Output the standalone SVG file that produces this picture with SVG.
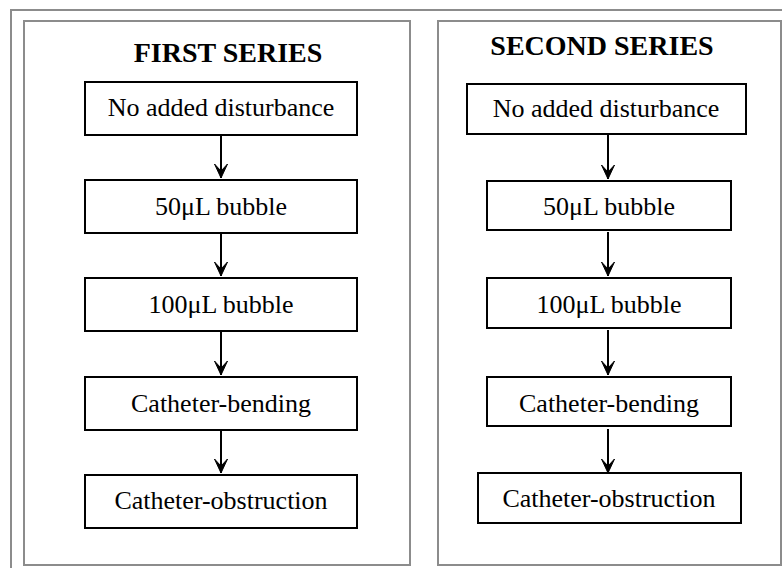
<svg xmlns="http://www.w3.org/2000/svg" width="782" height="568" viewBox="0 0 782 568">
<style>
.frame{fill:none;stroke:#8c8c8c;stroke-width:2}
.box{fill:#fff;stroke:#000;stroke-width:2}
.lbl{font-family:"Liberation Serif","Times New Roman",serif;font-size:26px;fill:#000;text-anchor:middle}
.ttl{font-family:"Liberation Serif","Times New Roman",serif;font-size:28px;font-weight:bold;fill:#000;text-anchor:middle}
.conn{stroke:#000;stroke-width:2;fill:none}
</style>
<defs>
<marker id="ah" markerUnits="userSpaceOnUse" markerWidth="18" markerHeight="18" viewBox="-16 -9 18 18" refX="0" refY="0" orient="auto">
<path d="M0,0 L-14,-6.5 L-7,0 L-14,6.5 Z" fill="#000" stroke="#000" stroke-width="1" stroke-linejoin="miter"/>
</marker>
</defs>
<rect width="782" height="568" fill="#fff"/>
<rect class="frame" x="11" y="10" width="790" height="580"/>
<g id="panel-first">
<rect class="frame" x="24" y="21" width="386" height="544"/>
<text class="ttl" x="228" y="62">FIRST SERIES</text>
</g>
<g id="panel-second">
<rect class="frame" x="438" y="21" width="343" height="544"/>
<text class="ttl" x="602" y="55">SECOND SERIES</text>
</g>
<g id="connectors">
<line class="conn" x1="221" y1="135" x2="221" y2="178" marker-end="url(#ah)"/>
<line class="conn" x1="221" y1="233" x2="221" y2="276" marker-end="url(#ah)"/>
<line class="conn" x1="221" y1="331" x2="221" y2="375" marker-end="url(#ah)"/>
<line class="conn" x1="221" y1="430" x2="221" y2="473" marker-end="url(#ah)"/>
<line class="conn" x1="608" y1="134" x2="608" y2="179" marker-end="url(#ah)"/>
<line class="conn" x1="608" y1="232" x2="608" y2="276" marker-end="url(#ah)"/>
<line class="conn" x1="608" y1="330" x2="608" y2="375" marker-end="url(#ah)"/>
<line class="conn" x1="608" y1="429" x2="608" y2="473" marker-end="url(#ah)"/>
</g>
<g id="f1"><rect class="box" x="85" y="82" width="272" height="53"/><text class="lbl" x="221" y="116">No added disturbance</text></g>
<g id="f2"><rect class="box" x="85" y="180" width="272" height="53"/><text class="lbl" x="221" y="215">50μL bubble</text></g>
<g id="f3"><rect class="box" x="85" y="278" width="272" height="53"/><text class="lbl" x="221" y="313">100μL bubble</text></g>
<g id="f4"><rect class="box" x="85" y="377" width="272" height="53"/><text class="lbl" x="221" y="412">Catheter-bending</text></g>
<g id="f5"><rect class="box" x="85" y="475" width="272" height="53"/><text class="lbl" x="221" y="509">Catheter-obstruction</text></g>
<g id="s1"><rect class="box" x="467" y="84" width="279" height="50"/><text class="lbl" x="606" y="117">No added disturbance</text></g>
<g id="s2"><rect class="box" x="487" y="181" width="244" height="49"/><text class="lbl" x="609" y="215">50μL bubble</text></g>
<g id="s3"><rect class="box" x="487" y="278" width="244" height="50"/><text class="lbl" x="609" y="313">100μL bubble</text></g>
<g id="s4"><rect class="box" x="487" y="377" width="244" height="49"/><text class="lbl" x="609" y="412">Catheter-bending</text></g>
<g id="s5"><rect class="box" x="478" y="473" width="263" height="50"/><text class="lbl" x="609" y="507">Catheter-obstruction</text></g>
</svg>
